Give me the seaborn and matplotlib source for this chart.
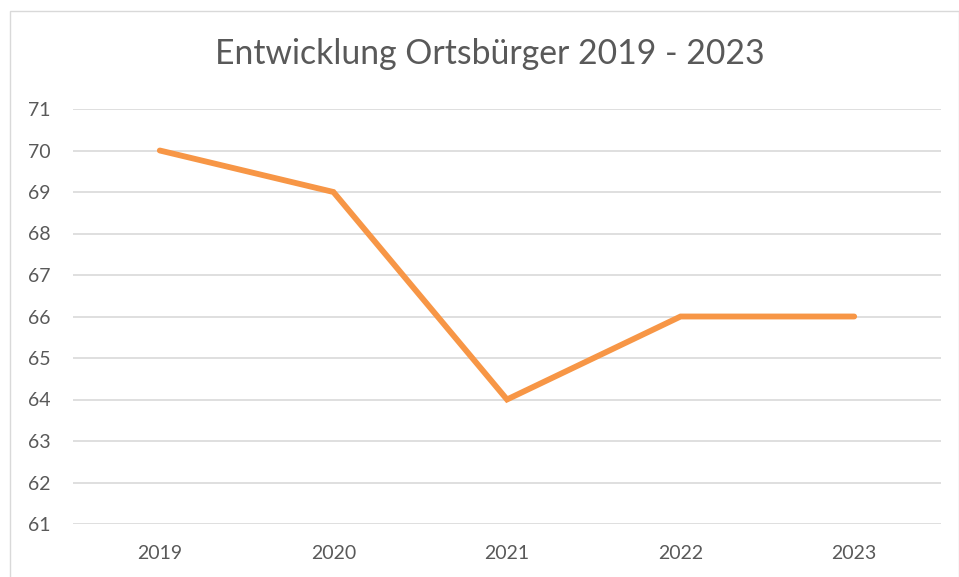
import matplotlib
matplotlib.use("Agg")
import matplotlib.pyplot as plt
import seaborn as sns
import pandas as pd
from matplotlib.patches import Rectangle

years = ["2019", "2020", "2021", "2022", "2023"]
values = [70, 69, 64, 66, 66]
yticks = list(range(61, 72))
title = "Entwicklung Ortsbürger 2019 - 2023"

sns.set_theme(style="white")
plt.rcParams['font.family'] = ['Lato', 'DejaVu Sans']

df = pd.DataFrame({"year": years, "value": values})

fig = plt.figure(figsize=(9.59, 5.77), dpi=100)
ax = fig.add_axes([73/959, 1-524/577, (941-73)/959, (524-109)/577])

sns.lineplot(data=df, x="year", y="value", ax=ax, color="#F79646",
             linewidth=4.2, sort=False, solid_capstyle="round",
             solid_joinstyle="miter")

ax.set_xlim(-0.5, len(years) - 0.5)
ax.set_ylim(61, 71)
ax.set_yticks(yticks)
ax.set_yticklabels([str(t) for t in yticks])
ax.grid(axis="y", color="#D9D9D9", linewidth=1.2)
ax.grid(axis="x", visible=False)
ax.set_axisbelow(True)
for s in ax.spines.values():
    s.set_visible(False)
ax.tick_params(axis="y", length=0, pad=16, labelsize=14, labelcolor="#595959")
ax.tick_params(axis="x", length=0, pad=15, labelsize=14, labelcolor="#595959")
ax.set_xlabel("")
ax.set_ylabel("")

fig.text(490/959, 1-54/577, title, ha="center", va="center",
         fontsize=24.3, color="#595959")

fig.patches.append(Rectangle((9.5/959, -0.01), (958.5-9.5)/959, 1-10.5/577 + 0.01,
                             transform=fig.transFigure, fill=False,
                             edgecolor="#D9D9D9", linewidth=1.0))

fig.savefig("out.png", dpi=100)
